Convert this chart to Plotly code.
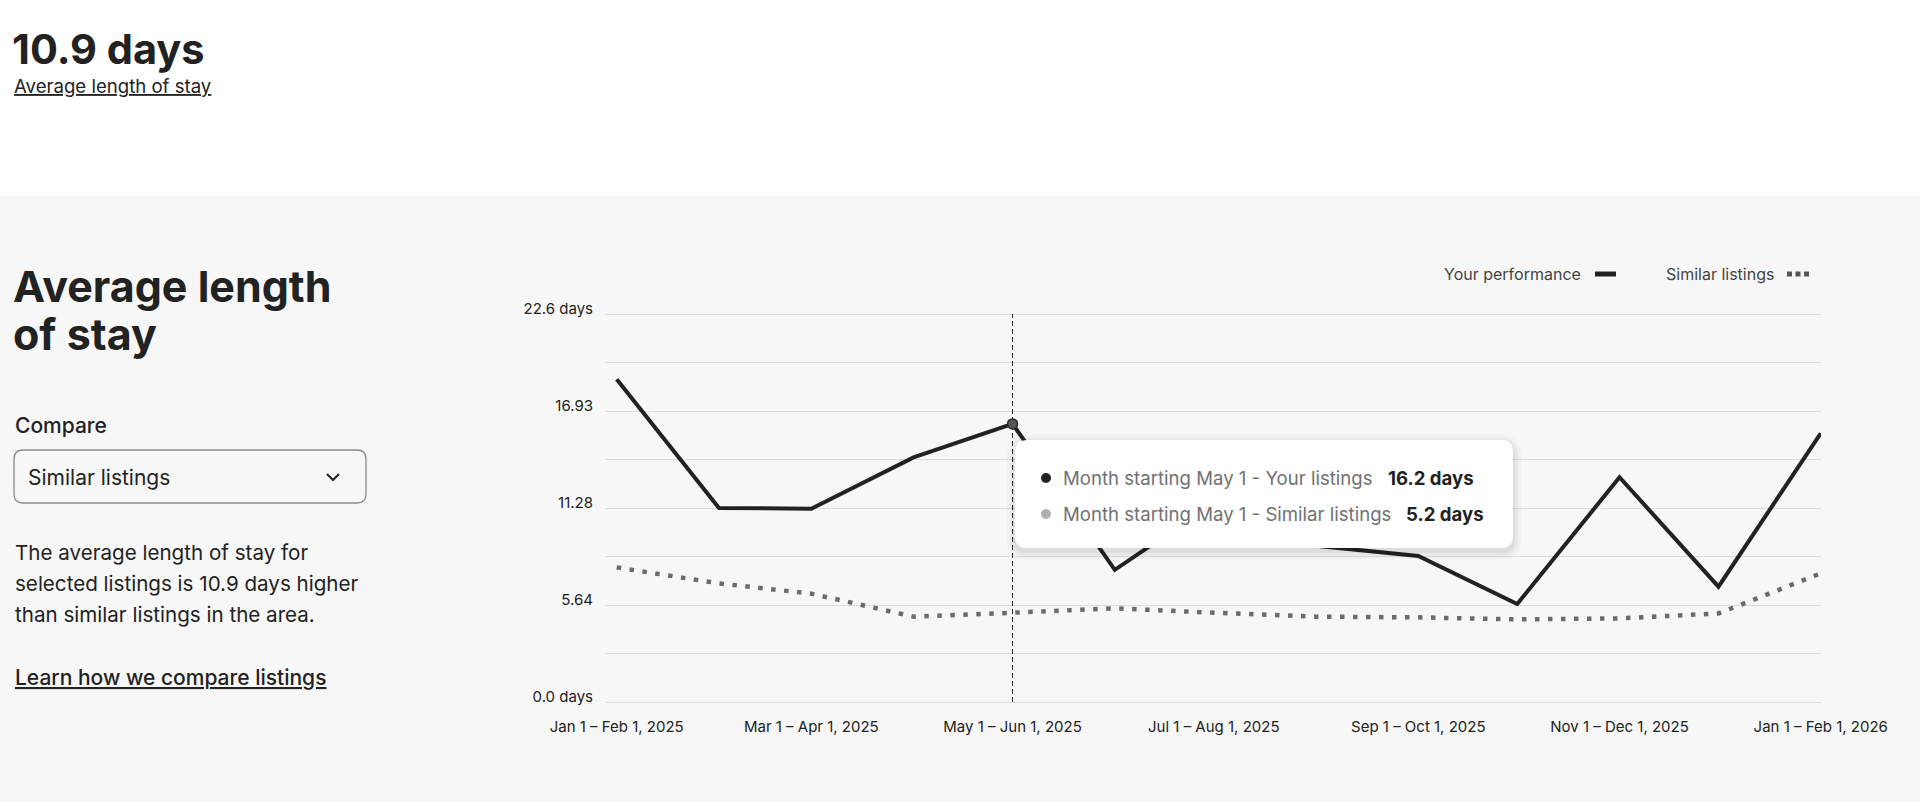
import plotly.graph_objects as go

# ---------------- data ----------------
months = ["2025-01-01", "2025-02-01", "2025-03-01", "2025-04-01", "2025-05-01",
          "2025-06-01", "2025-07-01", "2025-08-01", "2025-09-01", "2025-10-01",
          "2025-11-01", "2025-12-01", "2026-01-01"]
your_listings = [18.8, 11.3, 11.26, 14.25, 16.2, 7.7, 11.6, 9.1, 8.5, 5.71, 13.09, 6.72, 15.65]
similar_listings = [7.84, 6.91, 6.31, 4.97, 5.2, 5.46, 5.2, 4.97, 4.93, 4.81, 4.87, 5.16, 7.49]

x_tick_dates = ["2025-01-01", "2025-03-01", "2025-05-01", "2025-07-01",
                "2025-09-01", "2025-11-01", "2026-01-01"]
x_tick_labels = ["Jan 1 – Feb 1, 2025", "Mar 1 – Apr 1, 2025", "May 1 – Jun 1, 2025",
                 "Jul 1 – Aug 1, 2025", "Sep 1 – Oct 1, 2025", "Nov 1 – Dec 1, 2025",
                 "Jan 1 – Feb 1, 2026"]
y_tick_vals = [0, 2.825, 5.65, 8.475, 11.3, 14.125, 16.95, 19.775, 22.6]
y_tick_labels = ["0.0 days", "", "5.64", "", "11.28", "", "16.93", "", "22.6 days"]

headline_value = "10.9 days"
hover_index = 4
hover_month = "May 1"

# ---------------- layout geometry (pixels) ----------------
W, H = 1920, 802
PL, PR, PT, PB = 605, 1821, 312, 704
Y_PAD = 0.1165  # 2px of headroom so the 0 and 22.6 gridlines are drawn
FONT = "Inter, 'Noto Sans', sans-serif"
DARK = "#222222"


def X(px):
    return (px - PL) / (PR - PL)


def Y(py):
    return (PB - py) / (PB - PT)


def rounded_rect(x0, y0, x1, y1, r):
    return (f"M {X(x0 + r)},{Y(y0)} L {X(x1 - r)},{Y(y0)} Q {X(x1)},{Y(y0)} {X(x1)},{Y(y0 + r)} "
            f"L {X(x1)},{Y(y1 - r)} Q {X(x1)},{Y(y1)} {X(x1 - r)},{Y(y1)} "
            f"L {X(x0 + r)},{Y(y1)} Q {X(x0)},{Y(y1)} {X(x0)},{Y(y1 - r)} "
            f"L {X(x0)},{Y(y0 + r)} Q {X(x0)},{Y(y0)} {X(x0 + r)},{Y(y0)} Z")


fig = go.Figure()

fig.add_trace(go.Scatter(x=months, y=similar_listings, mode="lines",
                         line=dict(color="#6b6b6b", width=4.5, dash="4.5px,8.5px"),
                         hoverinfo="skip", showlegend=False))
fig.add_trace(go.Scatter(x=months, y=your_listings, mode="lines",
                         line=dict(color=DARK, width=4),
                         hoverinfo="skip", showlegend=False))
fig.add_trace(go.Scatter(x=[months[hover_index]], y=[your_listings[hover_index]], mode="markers",
                         marker=dict(color="#555555", size=10, line=dict(color="#2a2a2a", width=1.5)),
                         hoverinfo="skip", showlegend=False, cliponaxis=False))

shapes = []
# grey panel background
shapes.append(dict(type="rect", xref="paper", yref="paper", x0=X(0), x1=X(W), y0=Y(196), y1=Y(H + 5),
                   fillcolor="#f7f7f7", line=dict(width=0), layer="below"))
# hover dashed line
shapes.append(dict(type="line", xref="x", yref="y", x0=months[hover_index], x1=months[hover_index],
                   y0=y_tick_vals[0], y1=y_tick_vals[-1], line=dict(color=DARK, width=1, dash="5px,3px"),
                   layer="between"))
# dropdown box
shapes.append(dict(type="path", xref="paper", yref="paper", path=rounded_rect(14, 450, 366, 503, 9),
                   fillcolor="rgba(255,255,255,0)", line=dict(color="#8a8a8a", width=1.3)))
# chevron
shapes.append(dict(type="path", xref="paper", yref="paper",
                   path=f"M {X(327)},{Y(474)} L {X(333)},{Y(480)} L {X(339)},{Y(474)}",
                   line=dict(color=DARK, width=2)))
# tooltip shadow + box
for i, a in enumerate([0.025, 0.035, 0.05]):
    g = 8 - i * 3
    shapes.append(dict(type="path", xref="paper", yref="paper",
                       path=rounded_rect(1015 - g, 440 - g + 3, 1513 + g, 548 + g + 3, 12 + g),
                       fillcolor=f"rgba(0,0,0,{a})", line=dict(width=0), layer="above"))
shapes.append(dict(type="path", xref="paper", yref="paper", path=rounded_rect(1015, 440, 1513, 548, 12),
                   fillcolor="#ffffff", line=dict(width=0), layer="above"))
# tooltip dots
for cy, col in [(478, DARK), (514, "#b0b0b0")]:
    shapes.append(dict(type="circle", xref="paper", yref="paper", x0=X(1041), x1=X(1051),
                       y0=Y(cy + 5), y1=Y(cy - 5), fillcolor=col, line=dict(width=0), layer="above"))
# legend swatches
shapes.append(dict(type="line", xref="paper", yref="paper", x0=X(1595), x1=X(1616), y0=Y(274), y1=Y(274),
                   line=dict(color=DARK, width=5)))
shapes.append(dict(type="line", xref="paper", yref="paper", x0=X(1787), x1=X(1810), y0=Y(274), y1=Y(274),
                   line=dict(color="#555555", width=5, dash="5px,3.5px")))

ann = []


def text(s, px, py, size, color=DARK, anchor="left", weight=None):
    if weight:
        s = f"<span style='font-weight:{weight}'>{s}</span>"
    ann.append(dict(text=s, xref="paper", yref="paper", x=X(px), y=Y(py), xanchor=anchor, yanchor="middle",
                    showarrow=False, font=dict(family=FONT, size=size, color=color)))


text(f"<b>{headline_value}</b>", 10, 49, 41.5)
text("<span style='text-decoration:underline'>Average length of stay</span>", 12, 86, 18.6)
text("<b>Average length</b>", 11, 286, 43)
text("<b>of stay</b>", 11, 334, 43)
text("Compare", 13, 425, 21, weight=500)
text("Similar listings", 26, 477, 21)
text("The average length of stay for", 13, 552, 20.6)
text("selected listings is 10.9 days higher", 13, 583, 20.6)
text("than similar listings in the area.", 13, 614, 20.6)
text("<span style='text-decoration:underline'>Learn how we compare listings</span>", 13, 677, 21, weight=500)
text("Your performance", 1583, 274, 16, color="#444444", anchor="right")
text("Similar listings", 1776, 274, 16, color="#444444", anchor="right")
text(f"Month starting {hover_month} - Your listings", 1061, 478, 18.6, color="#717171")
text(f"<b>{your_listings[hover_index]:.1f} days</b>", 1386, 478, 18.6)
text(f"Month starting {hover_month} - Similar listings", 1061, 514, 18.6, color="#717171")
text(f"<b>{similar_listings[hover_index]:.1f} days</b>", 1404, 514, 18.6)
for a in ann:
    a["captureevents"] = False

fig.update_layout(
    width=W, height=H, autosize=False,
    margin=dict(l=PL, r=W - PR, t=PT, b=H - PB, pad=0),
    paper_bgcolor="#ffffff", plot_bgcolor="rgba(0,0,0,0)",
    showlegend=False, shapes=shapes, annotations=ann,
    font=dict(family=FONT, color=DARK),
    xaxis=dict(type="date", range=["2024-12-28 10:48", "2026-01-01 02:00"], tickvals=x_tick_dates,
               ticktext=x_tick_labels, showgrid=False, zeroline=False, showline=False, ticks="",
               tickfont=dict(size=15, color=DARK), ticklabelstandoff=12, fixedrange=True),
    yaxis=dict(range=[y_tick_vals[0] - Y_PAD, y_tick_vals[-1] + Y_PAD], tickvals=y_tick_vals,
               ticktext=y_tick_labels, showgrid=True,
               gridcolor="#dcdcdc", gridwidth=1, zeroline=False, showline=False, ticks="",
               tickfont=dict(size=15, color=DARK), ticklabelstandoff=11, ticklabelshift=-5,
               fixedrange=True),
    hovermode=False,
)

fig.write_html("out.html", config={"displayModeBar": False, "staticPlot": True},
               post_script="document.body.style.margin='0';document.body.style.overflow='hidden';")
